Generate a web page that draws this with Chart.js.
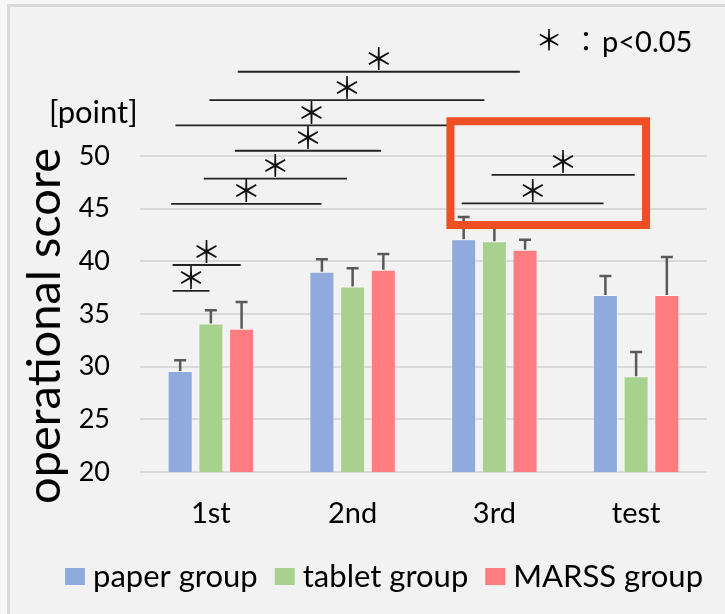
<!DOCTYPE html>
<html lang="en">
<head>
    <meta charset="UTF-8">
    <title>operational score</title>
    <script src="https://cdn.jsdelivr.net/npm/chart.js"></script>
    <style>
        html, body {
            margin: 0;
            padding: 0;
            overflow: hidden;
            background-color: #f7f7f7;
        }
        #frame {
            position: absolute;
            left: 7px;
            top: 4px;
            width: 760px;
            height: 660px;
            border: 3px solid #d9d9d9;
            background-color: #f2f2f2;
        }
        #grafico {
            position: absolute;
            left: 0;
            top: 0;
        }
    </style>
</head>
<body>
    <div id="frame"></div>
    <canvas id="grafico" width="725" height="614"></canvas>

    <script>
        // dados
        const categories = ['1st', '2nd', '3rd', 'test'];
        const groupNames = ['paper group', 'tablet group', 'MARSS group'];
        const paperScores = [29.6, 39.0, 42.1, 36.8];
        const tabletScores = [34.1, 37.6, 41.9, 29.1];
        const marssScores = [33.6, 39.2, 41.1, 36.8];
        const paperSD = [1.0, 1.2, 2.1, 1.8];
        const tabletSD = [1.25, 1.75, 1.7, 2.3];
        const marssSD = [2.55, 1.5, 0.95, 3.6];
        const yTicks = [20, 25, 30, 35, 40, 45, 50];

        // comparações significativas (p<0.05): início / fim em unidades de categoria, nível em pontos
        const sigFrom = [0.19, -0.01, -0.25, 0.17, -0.05, -0.28, -0.27, -0.27, 1.98, 1.77];
        const sigTo = [2.18, 1.93, 1.67, 1.20, 0.96, 0.78, 0.21, -0.01, 2.99, 2.77];
        const sigLevel = [58.0, 55.3, 52.9, 50.5, 47.85, 45.45, 39.65, 37.2, 48.2, 45.5];

        // destaque (caixa vermelha) em unidades de categoria / pontos
        const highlightX = [1.69, 3.07];
        const highlightY = [43.45, 53.3];

        const FONT = "Lato, 'Noto Sans', sans-serif";
        const STAR_FONT = "'Noto Sans CJK JP', sans-serif";

        const errorBars = {
            id: 'errorBars',
            afterDatasetsDraw(chart) {
                const ctx = chart.ctx;
                const y = chart.scales.y;
                chart.data.datasets.forEach((ds, di) => {
                    const meta = chart.getDatasetMeta(di);
                    meta.data.forEach((bar, i) => {
                        const top = y.getPixelForValue(ds.data[i] + ds.sd[i]);
                        ctx.save();
                        ctx.strokeStyle = '#595959';
                        ctx.lineWidth = 2.5;
                        ctx.beginPath();
                        ctx.moveTo(bar.x, bar.y);
                        ctx.lineTo(bar.x, top);
                        ctx.moveTo(bar.x - 6, top);
                        ctx.lineTo(bar.x + 6, top);
                        ctx.stroke();
                        ctx.restore();
                    });
                });
            }
        };

        // legenda desenhada à mão (espaçamento mais apertado que o padrão)
        const legendaGrupos = {
            id: 'legendaGrupos',
            afterDraw(chart) {
                const ctx = chart.ctx;
                ctx.save();
                ctx.font = '31px ' + FONT;
                ctx.textBaseline = 'middle';
                ctx.textAlign = 'left';
                let cx = 65;
                const cy = 577;
                chart.data.datasets.forEach(ds => {
                    ctx.fillStyle = ds.backgroundColor;
                    ctx.fillRect(cx, cy - 9, 20, 17);
                    cx += 28;
                    ctx.fillStyle = '#000';
                    ctx.fillText(ds.label, cx, cy);
                    cx += ctx.measureText(ds.label).width + 17;
                });
                ctx.restore();
            }
        };

        const annotations = {
            id: 'annotations',
            afterDraw(chart) {
                const ctx = chart.ctx;
                const x = chart.scales.x;
                const y = chart.scales.y;
                ctx.save();

                // linhas de significância + asteriscos
                ctx.strokeStyle = '#222';
                ctx.lineWidth = 1.8;
                ctx.fillStyle = '#111';
                ctx.font = '30px ' + STAR_FONT;
                ctx.textAlign = 'center';
                ctx.textBaseline = 'middle';
                for (let k = 0; k < sigLevel.length; k++) {
                    const x1 = x.getPixelForValue(sigFrom[k]);
                    const x2 = x.getPixelForValue(sigTo[k]);
                    const yy = y.getPixelForValue(sigLevel[k]);
                    ctx.beginPath();
                    ctx.moveTo(x1, yy);
                    ctx.lineTo(x2, yy);
                    ctx.stroke();
                    ctx.fillText('＊', (x1 + x2) / 2, yy - 13);
                }

                // caixa vermelha
                ctx.strokeStyle = '#f04e23';
                ctx.lineWidth = 8;
                const bx1 = x.getPixelForValue(highlightX[0]);
                const bx2 = x.getPixelForValue(highlightX[1]);
                const by1 = y.getPixelForValue(highlightY[1]);
                const by2 = y.getPixelForValue(highlightY[0]);
                ctx.strokeRect(bx1, by1, bx2 - bx1, by2 - by1);

                // legenda p<0.05
                ctx.fillStyle = '#000';
                ctx.font = '28px ' + STAR_FONT;
                ctx.fillText('＊', 549, 40);
                ctx.fillText('：', 586, 41);
                ctx.font = '29px ' + FONT;
                ctx.textAlign = 'left';
                ctx.textBaseline = 'alphabetic';
                ctx.fillText('p<0.05', 602, 52);

                // unidade
                ctx.font = '31px ' + FONT;
                ctx.fillText('[point]', 49, 123);

                // título do eixo y
                ctx.translate(60, 326);
                ctx.rotate(-Math.PI / 2);
                ctx.textAlign = 'center';
                ctx.font = '47px ' + FONT;
                ctx.fillText('operational score', 0, 0);

                ctx.restore();
            }
        };

        function desenhar() {
            const ctx = document.getElementById('grafico').getContext('2d');
            new Chart(ctx, {
                type: 'bar',
                data: {
                    labels: categories,
                    datasets: [
                        { label: groupNames[0], data: paperScores, sd: paperSD, backgroundColor: '#8faadc' },
                        { label: groupNames[1], data: tabletScores, sd: tabletSD, backgroundColor: '#a9d18e' },
                        { label: groupNames[2], data: marssScores, sd: marssSD, backgroundColor: '#ff7c80' }
                    ]
                },
                plugins: [errorBars, annotations, legendaGrupos],
                options: {
                    responsive: false,
                    animation: false,
                    devicePixelRatio: 1,
                    layout: { padding: { top: 156, right: 18, left: 0, bottom: 75 } },
                    datasets: {
                        bar: {
                            categoryPercentage: 0.65,
                            barPercentage: 0.815,
                            borderWidth: 1,
                            borderColor: 'rgba(255,255,255,0.35)'
                        }
                    },
                    plugins: {
                        legend: { display: false },
                        tooltip: { enabled: false }
                    },
                    scales: {
                        x: {
                            grid: { display: false },
                            border: { display: false },
                            afterFit(scale) {
                                scale.height = 67;
                            },
                            ticks: {
                                font: { family: FONT, size: 29 },
                                color: '#000',
                                padding: 16
                            }
                        },
                        y: {
                            min: yTicks[0],
                            max: yTicks[yTicks.length - 1],
                            afterBuildTicks(scale) {
                                scale.ticks = yTicks.map(v => ({ value: v }));
                            },
                            afterFit(scale) {
                                scale.width = 140;
                            },
                            grid: { color: '#d9d9d9', lineWidth: 2, drawTicks: false },
                            border: { display: false },
                            ticks: {
                                font: { family: FONT, size: 27 },
                                color: '#000',
                                padding: 30
                            }
                        }
                    }
                }
            });
        }

        Promise.all([
            document.fonts.load('29px Lato'),
            document.fonts.load("26px 'Noto Sans CJK JP'")
        ]).then(desenhar, desenhar);
    </script>
</body>
</html>
